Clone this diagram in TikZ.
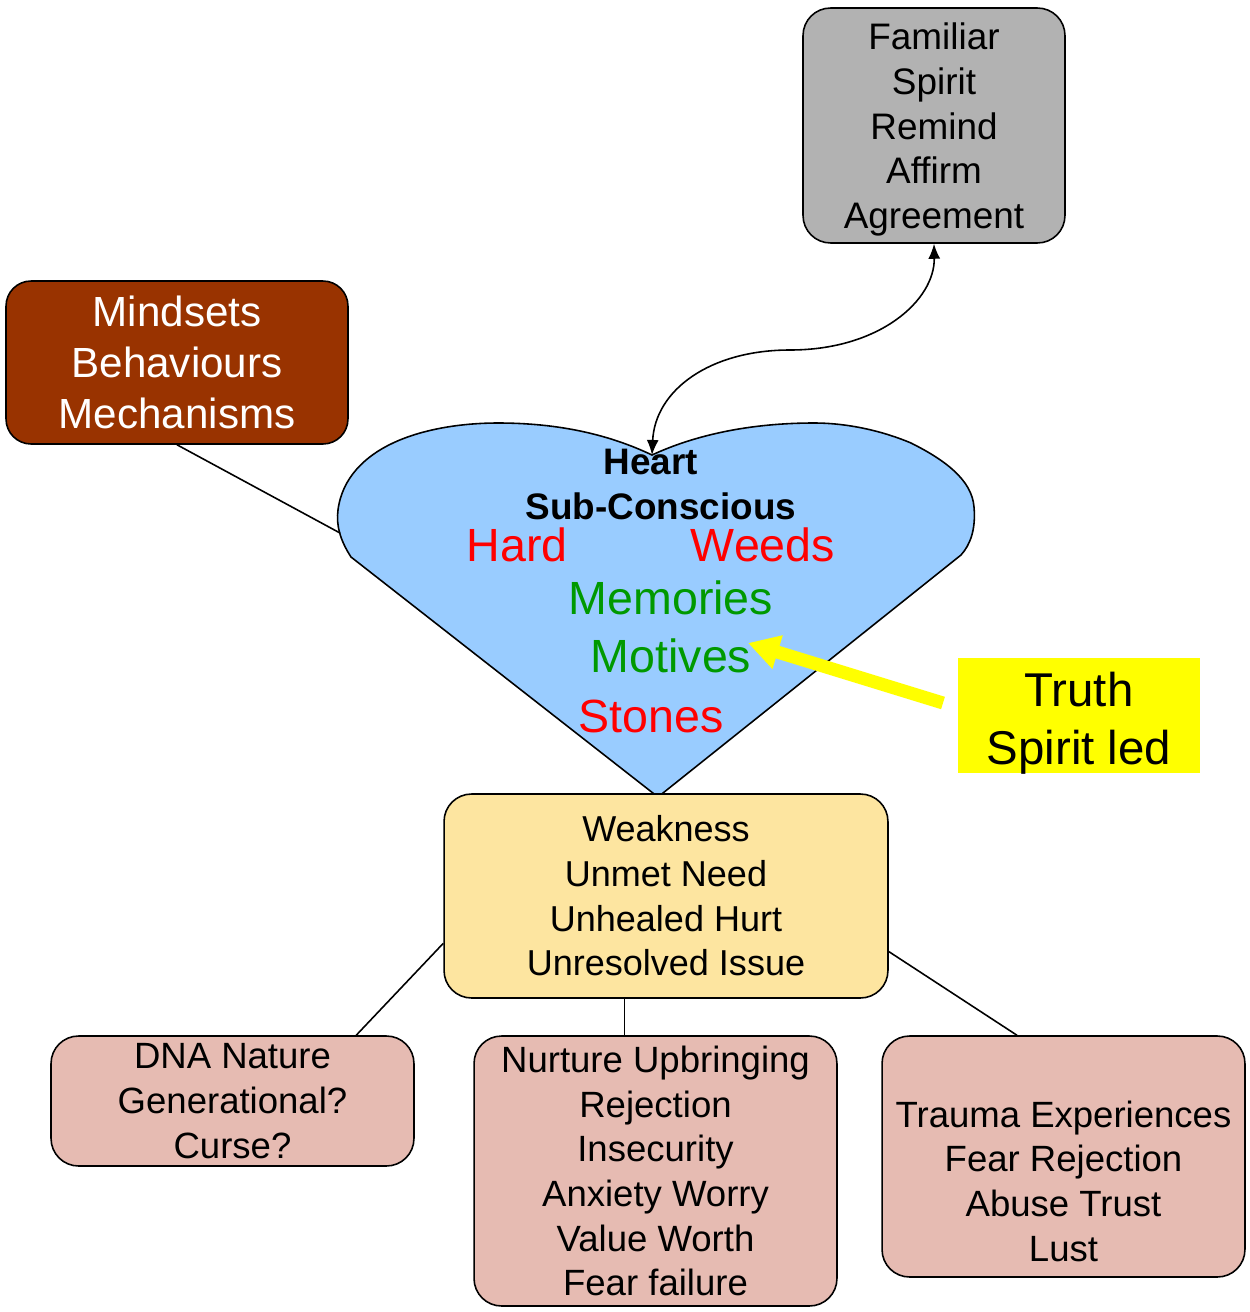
\documentclass[tikz,border=0pt]{standalone}
\usepackage{fontspec}
\setmainfont{Liberation Sans}
\usetikzlibrary{arrows.meta}
\definecolor{gris}{RGB}{178,178,178}
\definecolor{brun}{RGB}{153,51,0}
\definecolor{bleu}{RGB}{153,204,255}
\definecolor{sable}{RGB}{253,229,160}
\definecolor{rose}{RGB}{230,187,178}
\definecolor{vert}{RGB}{0,153,0}
\definecolor{rouge}{RGB}{255,0,0}
\definecolor{jaune}{RGB}{255,255,0}
\begin{document}
\begin{tikzpicture}[x=0.02cm,y=-0.02cm]
% Styles
\tikzstyle{boite}=[draw=black,line width=0.9pt,rounded corners=0.55cm,align=center,inner sep=0pt]
\tikzstyle{liaison}=[line width=0.9pt]
\tikzstyle{fleche}=[<->,>={Latex[length=3mm,width=2.4mm]},line width=0.9pt]
\tikzstyle{flechejaune}=[-{Triangle[length=0.62cm,width=0.66cm]},draw=jaune,line width=0.26cm]
\tikzstyle{coeur}=[fill=bleu,draw=black,line width=0.9pt]
\tikzstyle{mot}=[inner sep=0pt,align=center]
% Tailles de texte
\def\Grand{\fontsize{24pt}{28.9pt}\selectfont}
\def\Moyen{\fontsize{21pt}{25.4pt}\selectfont}
\def\Petit{\fontsize{20.8pt}{25.4pt}\selectfont}
\def\Coeur{\fontsize{26.5pt}{32pt}\selectfont}
% Cadre de l'image
\useasboundingbox (0,0) rectangle (1249,1312);
% Le coeur
\draw[coeur] (658,797) -- (351,557)
  .. controls (340,540) and (336,525) .. (338,510)
  .. controls (342,478) and (365,456) .. (393,443)
  .. controls (425,428) and (465,423) .. (498,423)
  .. controls (560,423) and (610,435) .. (652,455)
  .. controls (695,435) and (750,423) .. (814,423)
  .. controls (850,423) and (885,432) .. (911,443)
  .. controls (945,460) and (972,480) .. (974,507)
  .. controls (976,530) and (970,545) .. (961,555) -- cycle;
\coordinate (creux) at (652,455);
\coordinate (bordG) at (340,533);
\coordinate (cible) at (748,643);
\coordinate (depart) at (943,703);
% Textes du coeur
\node[mot,font=\Moyen\bfseries] (titre) at (651,462) {Heart};
\node[mot,font=\Moyen\bfseries] (sous) at (661,506) {Sub-Conscious};
\node[mot,font=\Coeur,text=rouge] (dur) at (517,545) {Hard};
\node[mot,font=\Coeur,text=rouge] (mauvaises) at (763,545) {Weeds};
\node[mot,font=\Coeur,text=vert] (souvenirs) at (671,598) {Memories};
\node[mot,font=\Coeur,text=vert] (motifs) at (671,656) {Motives};
\node[mot,font=\Coeur,text=rouge] (pierres) at (651,716) {Stones};
% Boites
\node[boite,fill=gris,minimum width=5.24cm,minimum height=4.7cm] (familier) at (934,125.5) {};
\node[mot,font=\Moyen] (familiertxt) at (934,129.5)
  {Familiar\\Spirit\\Remind\\Affirm\\Agreement};
\node[boite,fill=brun,text=white,font=\Grand,rounded corners=0.5cm,minimum width=6.84cm,minimum height=3.26cm] (mindsets) at (177,362.5)
  {Mindsets\\Behaviours\\Mechanisms};
\node[boite,draw=none,fill=jaune,rounded corners=0pt,minimum width=4.84cm,minimum height=2.3cm] (verite) at (1079,715.5) {};
\node[mot,font=\fontsize{27pt}{33pt}\selectfont] (veritetxt) at (1079,723)
  {Truth\\Spirit led};
\node[boite,fill=sable,font=\fontsize{20.5pt}{25.4pt}\selectfont,minimum width=8.88cm,minimum height=4.08cm] (faiblesse) at (666,896)
  {Weakness\\Unmet Need\\Unhealed Hurt\\Unresolved Issue};
\node[boite,fill=rose,font=\Petit,minimum width=7.26cm,minimum height=2.6cm] (adn) at (232.5,1101)
  {DNA Nature\\Generational?\\Curse?};
\node[boite,fill=rose,font=\Petit,minimum width=7.26cm,minimum height=5.4cm] (nourriture) at (655.5,1171)
  {Nurture Upbringing\\Rejection\\Insecurity\\Anxiety Worry\\Value Worth\\Fear failure};
\node[boite,fill=rose,minimum width=7.26cm,minimum height=4.82cm] (trauma) at (1063.5,1156.5) {};
\node[mot,font=\Petit] (traumatxt) at (1063.5,1181)
  {Trauma Experiences\\Fear Rejection\\Abuse Trust\\Lust};
% Liaisons
\draw[liaison] (mindsets.south) -- (bordG);
\draw[liaison] (faiblesse.192) -- (adn.28);
\draw[liaison] (faiblesse.248) -- (faiblesse.248 |- nourriture.north);
\draw[liaison] (faiblesse.346) -- (trauma.111);
% Fleches
\draw[fleche] (creux) .. controls (655,390) and (710,350) .. (790,350)
  .. controls (880,350) and (935,300) .. (familier.south);
\draw[flechejaune] (depart) -- (cible);
\end{tikzpicture}
\end{document}
